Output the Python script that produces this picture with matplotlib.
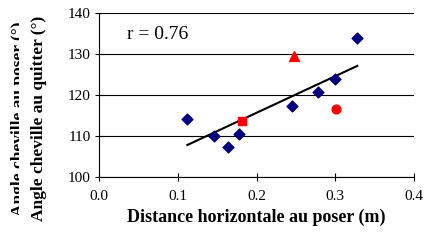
import numpy as np
import matplotlib.pyplot as plt

plt.rcParams['font.family'] = ['Liberation Serif', 'DejaVu Serif']

# blue diamonds
dist = [0.112, 0.146, 0.164, 0.178, 0.245, 0.278, 0.300, 0.327]
angle = [114.2, 110.0, 107.5, 110.5, 117.4, 120.8, 124.1, 133.9]

# red markers
sq_x, sq_y = [0.182], [113.8]
tri_x, tri_y = [0.248], [129.6]
circ_x, circ_y = [0.301], [116.7]

# trend line ends
trend_x = [0.112, 0.328]
trend_y = [107.9, 127.2]

fig = plt.figure(figsize=(4.25, 2.4), dpi=100)
ax = fig.add_axes([0.2336, 0.261, 0.7404, 0.683])

ax.set_axisbelow(True)
ax.yaxis.grid(True, color='black', lw=0.8)
ax.plot(trend_x, trend_y, color='black', lw=1.5, zorder=2)
ax.scatter(dist, angle, marker='D', s=30, color='#000080', zorder=3)
ax.scatter(sq_x, sq_y, marker='s', s=40, color='red', zorder=3)
ax.scatter(tri_x, tri_y, marker='^', s=50, color='red', zorder=3)
ax.scatter(circ_x, circ_y, marker='o', s=40, color='red', zorder=3)

ax.set_xlim(0, 0.4)
ax.set_ylim(100, 140)
ax.set_xticks([0, 0.1, 0.2, 0.3, 0.4])
ax.set_xticklabels(['0.0', '0.1', '0.2', '0.3', '0.4'])
ax.set_yticks([100, 110, 120, 130, 140])
ax.tick_params(labelsize=11, width=0.8, color='black')
ax.tick_params(axis='y', direction='inout', length=6, pad=3)
ax.tick_params(axis='x', direction='inout', length=6, pad=6)

for s in ['top', 'right']:
    ax.spines[s].set_visible(False)
for s in ['left', 'bottom']:
    ax.spines[s].set_linewidth(0.8)

ax.text(0.035, 134.8, 'r = 0.76', fontsize=14, va='center')

ax.set_xlabel('Distance horizontale au poser (m)', fontsize=13, fontweight='bold', labelpad=4)
fig.text(0.045, 0.505, 'Angle cheville au poser (°)', rotation=90, fontsize=12.5,
         fontweight='bold', ha='center', va='center')
fig.text(0.091, 0.505, 'Angle cheville au quitter (°)', rotation=90, fontsize=12.5,
         fontweight='bold', ha='center', va='center',
         bbox=dict(boxstyle='square,pad=0.7', fc='white', ec='none'))

plt.savefig('out.png', dpi=100)
